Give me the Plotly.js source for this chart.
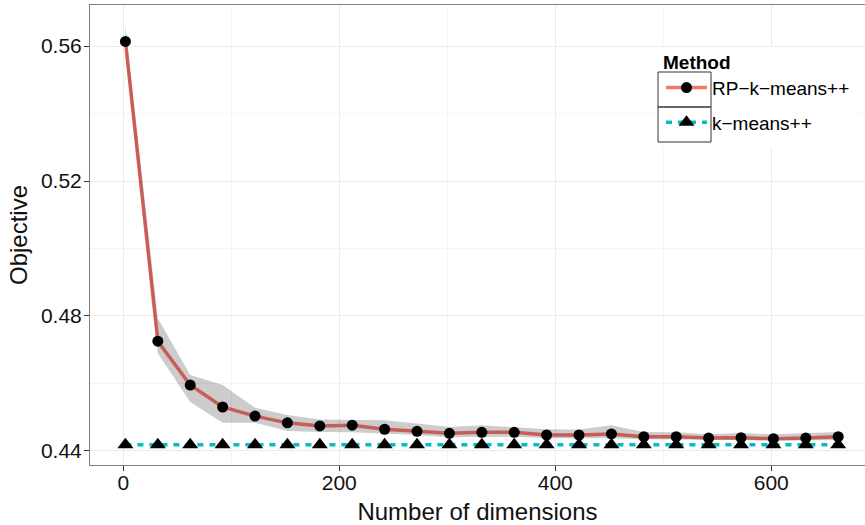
<!DOCTYPE html>
<html>
<head>
<meta charset="utf-8">
<script src="https://cdn.plot.ly/plotly-3.0.1.min.js"></script>
<style>html,body{margin:0;padding:0;background:#fff;}#chart{width:865px;height:525px;}</style>
</head>
<body>
<div id="chart"></div>
<script>
// Number of dimensions (x)
const dims = [2, 32, 62, 92, 122, 152, 182, 212, 242, 272, 302, 332, 362, 392, 422, 452, 482, 512, 542, 572, 602, 632, 662];
// RP-k-means++ objective (mean)
const rpMean = [0.5614, 0.4725, 0.4595, 0.4530, 0.4503, 0.4483, 0.4474, 0.4476, 0.4464, 0.4458, 0.4452, 0.4455, 0.4455, 0.4447, 0.4447, 0.4450, 0.4442, 0.4442, 0.4438, 0.4439, 0.4436, 0.4438, 0.4442];
// RP-k-means++ band (upper / lower)
const rpUpper = [0.5660, 0.4793, 0.4625, 0.4595, 0.4528, 0.4506, 0.4493, 0.4493, 0.4491, 0.4481, 0.4471, 0.4476, 0.4469, 0.4464, 0.4463, 0.4476, 0.4456, 0.4455, 0.4449, 0.4453, 0.4449, 0.4452, 0.4456];
const rpLower = [0.5570, 0.4689, 0.4545, 0.4483, 0.4483, 0.4459, 0.4456, 0.4455, 0.4452, 0.4447, 0.4440, 0.4440, 0.4442, 0.4437, 0.4437, 0.4437, 0.4434, 0.4434, 0.4432, 0.4432, 0.4430, 0.4430, 0.4432];
// k-means++ objective
const kmpp = [0.4418, 0.4418, 0.4418, 0.4418, 0.4418, 0.4418, 0.4418, 0.4418, 0.4418, 0.4418, 0.4418, 0.4418, 0.4418, 0.4418, 0.4418, 0.4418, 0.4418, 0.4418, 0.4418, 0.4418, 0.4418, 0.4418, 0.4418];
// labels
const seriesNames = ["RP\u2212k\u2212means++", "k\u2212means++"];
const legendTitle = "Method";
const xTitle = "Number of dimensions";
const yTitle = "Objective";
const xTicks = [0, 200, 400, 600];
const yTicks = [0.44, 0.48, 0.52, 0.56];

const W = 865, H = 525, ML = 90, MR = 0, MT = 5, MB = 60;
const pw = W - ML - MR, ph = H - MT - MB;
const px = v => (v - ML) / pw;
const py = v => 1 - (v - MT) / ph;

const traces = [
  {
    x: dims, y: rpMean, name: seriesNames[0], type: 'scatter', mode: 'lines+markers',
    line: {color: '#F8766D', width: 3.5},
    marker: {color: '#000', size: 11, symbol: 'circle'},
    legendgroup: 'a'
  },
  {
    x: dims.concat(dims.slice().reverse()),
    y: rpUpper.concat(rpLower.slice().reverse()),
    type: 'scatter', mode: 'lines', fill: 'toself',
    fillcolor: 'rgba(0,0,0,0.2)', line: {width: 0, color: 'rgba(0,0,0,0)'},
    showlegend: false, hoverinfo: 'skip', legendgroup: 'a'
  },
  {
    x: dims, y: kmpp, name: seriesNames[1], type: 'scatter', mode: 'lines+markers',
    line: {color: '#00BFC4', width: 3.5, dash: '6px,6px'},
    marker: {color: '#000', size: 14, symbol: 'triangle-up'},
    legendgroup: 'b'
  }
];

const boxStyle = {type: 'rect', xref: 'paper', yref: 'paper', line: {color: '#333', width: 1}, fillcolor: 'rgba(0,0,0,0)', layer: 'above'};
const layout = {
  width: W, height: H,
  margin: {l: ML, r: MR, t: MT, b: MB},
  paper_bgcolor: '#fff', plot_bgcolor: '#fff',
  font: {family: '"Liberation Sans", Arial, sans-serif', color: '#111'},
  showlegend: true,
  xaxis: {
    range: [-30.8, 686.8], tickvals: xTicks, ticktext: xTicks.map(String),
    showgrid: true, gridcolor: '#EBEBEB', gridwidth: 1,
    minor: {dtick: 100, tick0: 0, showgrid: true, gridcolor: '#F5F5F5', gridwidth: 1, ticklen: 0},
    zeroline: false, showline: true, linecolor: '#7F7F7F', linewidth: 1, mirror: true,
    ticks: 'outside', ticklen: 5, tickcolor: '#333', tickwidth: 1,
    ticklabelstandoff: -6,
    tickfont: {size: 21, color: '#111'},
    title: {text: xTitle, font: {size: 24, color: '#111'}, standoff: 16}
  },
  yaxis: {
    range: [0.4358, 0.5722], tickvals: yTicks, ticktext: yTicks.map(v => v.toFixed(2)),
    showgrid: true, gridcolor: '#EBEBEB', gridwidth: 1,
    minor: {dtick: 0.02, tick0: 0.44, showgrid: true, gridcolor: '#F5F5F5', gridwidth: 1, ticklen: 0},
    zeroline: false, showline: true, linecolor: '#7F7F7F', linewidth: 1, mirror: false,
    ticks: 'outside', ticklen: 5, tickcolor: '#333', tickwidth: 1,
    ticklabelstandoff: -2,
    tickfont: {size: 21, color: '#111'},
    title: {text: yTitle, font: {size: 24, color: '#111'}, standoff: 6}
  },
  legend: {
    x: px(661), y: py(44), xanchor: 'left', yanchor: 'top',
    bgcolor: 'rgba(0,0,0,0)', borderwidth: 0,
    title: {text: '<b>' + legendTitle + '</b>', font: {size: 19, color: '#000'}},
    font: {size: 19, color: '#000'},
    itemwidth: 41, tracegroupgap: 7, traceorder: 'grouped'
  },
  shapes: [
    {type: 'rect', xref: 'paper', yref: 'paper', x0: px(653), x1: px(857), y0: py(147), y1: py(47),
     line: {width: 0}, fillcolor: '#fff', layer: 'above'},
    Object.assign({x0: px(658), x1: px(711), y0: py(107), y1: py(72)}, boxStyle),
    Object.assign({x0: px(658), x1: px(711), y0: py(142), y1: py(107)}, boxStyle)
  ]
};

Plotly.newPlot('chart', traces, layout, {displayModeBar: false, staticPlot: true});
</script>
</body>
</html>
